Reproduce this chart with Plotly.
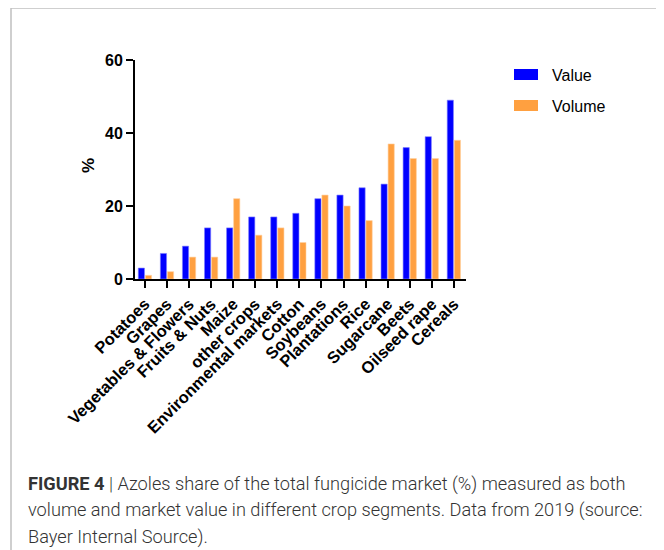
import plotly.graph_objects as go

categories = ["Potatoes", "Grapes", "Vegetables & Flowers", "Fruits & Nuts", "Maize",
              "other crops", "Environmental markets", "Cotton", "Soybeans", "Plantations",
              "Rice", "Sugarcane", "Beets", "Oilseed rape", "Cereals"]
value = [3, 7, 9, 14, 14, 17, 17, 18, 22, 23, 25, 26, 36, 39, 49]
volume = [1, 2, 6, 6, 22, 12, 14, 10, 23, 20, 16, 37, 33, 33, 38]
series_names = ["Value", "Volume"]
y_ticks = [0, 20, 40, 60]
caption_lines = [
    "<b>FIGURE 4</b> | Azoles share of the total fungicide market (%) measured as both",
    "volume and market value in different crop segments. Data from 2019 (source:",
    "Bayer Internal Source).",
]

BLUE = "#0000FF"
ORANGE = "#FFA040"
OFF = 8  # default page body margin
W, H = 664 - OFF, 550 - OFF
# plot area in page px
L, R, T, B = 135, 466, 60, 279
pw, ph = R - L, B - T

def px(x):
    return (x - L) / pw

def py(y):
    return (B - y) / ph

fig = go.Figure()
fig.add_bar(x=categories, y=value, name=series_names[0], marker_color=BLUE,
            marker_line_color="#8080ff", marker_line_width=0.6)
fig.add_bar(x=categories, y=volume, name=series_names[1], marker_color=ORANGE,
            marker_line_color="#ffd0a0", marker_line_width=0.6)

font_b = "Liberation Sans, Arial, sans-serif"
fig.update_layout(
    width=W, height=H,
    margin=dict(l=L - OFF, r=W - (R - OFF), t=T - OFF, b=H - (B - OFF), pad=0),
    paper_bgcolor="white", plot_bgcolor="white",
    barmode="group", bargap=0.36, bargroupgap=0.12,
    showlegend=False,
    xaxis=dict(range=[-0.45, 14.55], showline=True, linecolor="black", linewidth=2,
               ticks="outside", ticklen=7, tickwidth=2, tickcolor="black",
               tickangle=-45, showgrid=False, zeroline=False,
               tickfont=dict(family=font_b, size=16.5, color="black", weight="bold")),
    yaxis=dict(range=[0, 60], tickvals=y_ticks, showline=True, linecolor="black", linewidth=2,
               ticks="outside", ticklen=7, tickwidth=2, tickcolor="black",
               showgrid=False, zeroline=False,
               tickfont=dict(family=font_b, size=16, color="black", weight="bold")),
)

# y-axis title
fig.add_annotation(text="<b>%</b>", xref="paper", yref="paper", x=px(88), y=py(166),
                   xanchor="center", yanchor="middle",
                   showarrow=False, textangle=-90, font=dict(family=font_b, size=17, color="black"))

# legend (manual)
for i, (nm, col) in enumerate(zip(series_names, [BLUE, ORANGE])):
    y0 = 69 + i * 31
    fig.add_shape(type="rect", xref="paper", yref="paper", x0=px(514), x1=px(538),
                  y0=py(y0 + 11), y1=py(y0), fillcolor=col, line_width=0)
    fig.add_annotation(text=nm, xref="paper", yref="paper", x=px(550), y=py(y0 + 6),
                       xanchor="left", yanchor="middle", showarrow=False,
                       font=dict(family=font_b, size=16, color="black"))

# frame border
fig.add_shape(type="rect", xref="paper", yref="paper", x0=px(11), x1=px(662),
              y0=py(600), y1=py(8), line=dict(color="#c0c0c0", width=1.5), fillcolor="rgba(0,0,0,0)")

# caption
for i, line in enumerate(caption_lines):
    fig.add_annotation(text=line, xref="paper", yref="paper", x=px(26), y=py(484 + i * 26.5),
                       xanchor="left", yanchor="middle", showarrow=False,
                       font=dict(family="Roboto, Liberation Sans, sans-serif", weight=300,
                                 size=18.2, color="#333333"))

fig.write_html("out.html")
